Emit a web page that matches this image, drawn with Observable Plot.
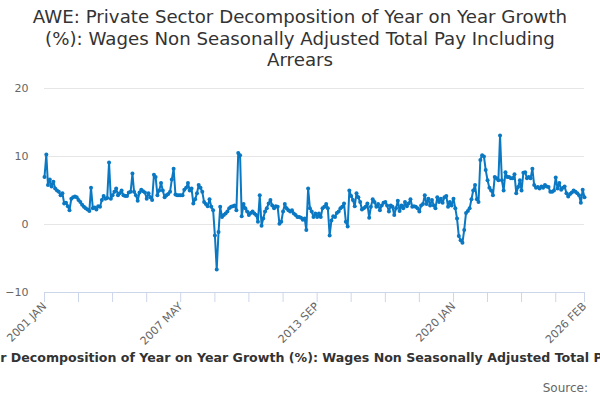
<!DOCTYPE html>
<html>
<head>
<meta charset="utf-8">
<script src="https://cdn.jsdelivr.net/npm/d3@7"></script>
<script src="https://cdn.jsdelivr.net/npm/@observablehq/plot@0.6"></script>
<style>
  html, body { margin: 0; padding: 0; background: #fff; }
  body { width: 600px; height: 400px; position: relative; overflow: hidden; font-family: "DejaVu Sans", sans-serif; }
  #title { position: absolute; top: 6px; left: 0; width: 600px; text-align: center; font-size: 18.2px; line-height: 21.5px; color: #333; }
  #chart { position: absolute; top: 76px; left: 0; }
  #chart svg { overflow: visible; }
  #caption { position: absolute; top: 350px; left: 305px; transform: translateX(-50%); white-space: nowrap; font-size: 12.6px; font-weight: bold; color: #333; }
  #source { position: absolute; top: 381px; right: 12px; font-size: 12px; color: #666; }
</style>
</head>
<body>
<div id="title">AWE: Private Sector Decomposition of Year on Year Growth<br>(%): Wages Non Seasonally Adjusted Total Pay Including<br>Arrears</div>
<div id="chart"></div>
<div id="caption"></div>
<div id="source">Source:</div>
<script>
const seriesName = "AWE: Private Sector Decomposition of Year on Year Growth (%): Wages Non Seasonally Adjusted Total Pay Including Arrears";
const startYear = 2001, startMonth = 0; // 2001 JAN, monthly
const values = [
  7.0, 10.3, 5.8, 6.6, 5.6, 6.3, 5.3, 5.0, 4.8, 4.3,
  4.6, 3.1, 3.2, 2.7, 2.1, 3.8, 4.0, 4.1, 4.0, 3.6,
  3.3, 2.9, 2.6, 2.4, 2.2, 2.0, 5.4, 2.4, 2.5, 2.2,
  2.7, 2.6, 3.6, 4.2, 3.8, 3.9, 9.1, 3.8, 4.3, 4.8,
  5.3, 4.3, 4.6, 5.0, 4.3, 4.2, 4.2, 4.7, 4.8, 7.5,
  4.8, 4.3, 3.5, 4.7, 5.1, 4.9, 4.7, 3.8, 4.6, 4.0,
  3.6, 7.3, 7.0, 4.3, 5.0, 6.1, 5.0, 4.0, 4.3, 4.5,
  4.8, 6.6, 8.2, 4.4, 4.3, 4.3, 4.3, 4.3, 5.1, 5.4,
  6.1, 5.0, 5.3, 3.1, 3.7, 4.6, 5.8, 5.4, 4.8, 3.3,
  3.0, 2.7, 3.7, 2.6, 2.1, -1.6, -6.6, -1.1, 2.6, 1.1,
  1.4, 1.6, 1.9, 2.4, 2.6, 2.7, 2.8, 2.1, 10.5, 10.2,
  1.2, 3.0, 2.4, 1.9, 1.4, 1.7, 1.9, 1.6, 1.4, 0.4,
  4.3, -0.2, 0.9, 1.9, 2.4, 3.1, 3.6, 2.8, 2.4, 2.7,
  2.6, 0.1, 0.4, 1.9, 3.0, 2.4, 2.1, 1.9, 2.1, 1.6,
  1.4, 1.1, 1.1, 1.0, 0.7, 0.9, -0.8, 5.3, 2.4, 1.9,
  1.1, 1.6, 1.1, 1.6, 1.1, 2.4, 2.6, 3.0, 2.4, -1.6,
  0.6, 1.2, 1.1, 1.7, 1.9, 2.4, 2.6, 3.1, 0.4, -0.3,
  5.0, 4.2, 3.6, 2.7, 4.6, 4.0, 3.3, 2.2, 2.4, 2.6,
  3.1, 1.0, 2.6, 3.7, 3.3, 2.6, 3.0, 2.1, 2.8, 3.2,
  3.3, 2.8, 1.9, 2.8, 2.6, 1.4, 2.4, 3.5, 2.0, 2.8,
  2.4, 3.3, 2.7, 3.1, 3.7, 2.6, 2.7, 2.6, 2.4, 1.9,
  2.8, 3.0, 4.3, 3.0, 3.8, 2.8, 3.6, 2.8, 2.4, 4.0,
  3.3, 3.8, 3.2, 4.0, 4.2, 2.6, 3.3, 2.8, 3.8, 2.4,
  0.9, -1.7, -2.3, -2.7, -0.8, 1.7, 2.0, 2.4, 3.7, 5.0,
  5.8, 3.7, 3.3, 9.5, 10.2, 10.0, 8.0, 6.5, 5.4, 5.0,
  4.3, 7.0, 6.8, 6.5, 13.1, 6.5, 5.0, 7.7, 7.0, 7.0,
  6.8, 6.8, 7.4, 4.6, 5.5, 6.5, 5.0, 7.6, 7.7, 6.8,
  7.0, 6.8, 8.2, 5.8, 5.4, 5.5, 5.3, 5.6, 5.4, 5.8,
  5.6, 5.5, 4.8, 4.8, 5.0, 6.9, 5.3, 6.1, 5.1, 5.4,
  5.6, 4.6, 4.1, 4.5, 4.7, 5.0, 4.8, 4.6, 4.3, 3.2,
  5.1, 4.0
];
const yTicks = [-10, 0, 10, 20];
const xTickStepMonths = 19;
const xTickLabels = ["2001 JAN", "2007 MAY", "2013 SEP", "2020 JAN", "2026 FEB"];

const monthDate = (k) => new Date(Date.UTC(startYear, startMonth + k, 1));
const data = values.map((v, k) => ({date: monthDate(k), value: v}));
const endDate = new Date(Date.UTC(2026, 1, 1));

const monthNames = ["JAN","FEB","MAR","APR","MAY","JUN","JUL","AUG","SEP","OCT","NOV","DEC"];
const fmt = (d) => d.getUTCFullYear() + " " + monthNames[d.getUTCMonth()];

const xTicks = [];
for (let k = 0; monthDate(k) < endDate; k += xTickStepMonths) {
  if (monthDate(k) <= new Date(Date.UTC(2025, 5, 1))) xTicks.push(monthDate(k));
}
xTicks.push(endDate);

const color = "#0a78c2";

const chart = Plot.plot({
  width: 600,
  height: 278,
  marginTop: 12,
  marginBottom: 62,
  marginLeft: 44,
  marginRight: 16,
  style: {fontFamily: "DejaVu Sans, sans-serif", fontSize: "11px", color: "#666", background: "transparent", overflow: "visible"},
  x: {type: "utc", domain: [monthDate(0), endDate]},
  y: {domain: [-10, 20]},
  marks: [
    Plot.gridY(yTicks, {stroke: "#e6e6e6", strokeOpacity: 1, strokeWidth: 1}),
    Plot.ruleY([-10], {stroke: "#ccd6eb", strokeWidth: 1}),
    Plot.axisY(yTicks, {tickSize: 0, tickPadding: 16, fill: "#666", fontSize: 11, label: null}),
    Plot.axisX(xTicks, {
      tickSize: 10, stroke: "#ccd6eb", tickPadding: 2, tickRotate: -45, fill: "#666", fontSize: 11, label: null,
      tickFormat: (d) => { const s = fmt(d); return xTickLabels.includes(s) ? s : ""; }
    }),
    Plot.line(data, {x: "date", y: "value", stroke: color, strokeWidth: 2}),
    Plot.dot(data, {x: "date", y: "value", r: 2, fill: color, stroke: null})
  ]
});
document.getElementById("chart").appendChild(chart);
document.getElementById("caption").textContent = seriesName;
</script>
</body>
</html>
